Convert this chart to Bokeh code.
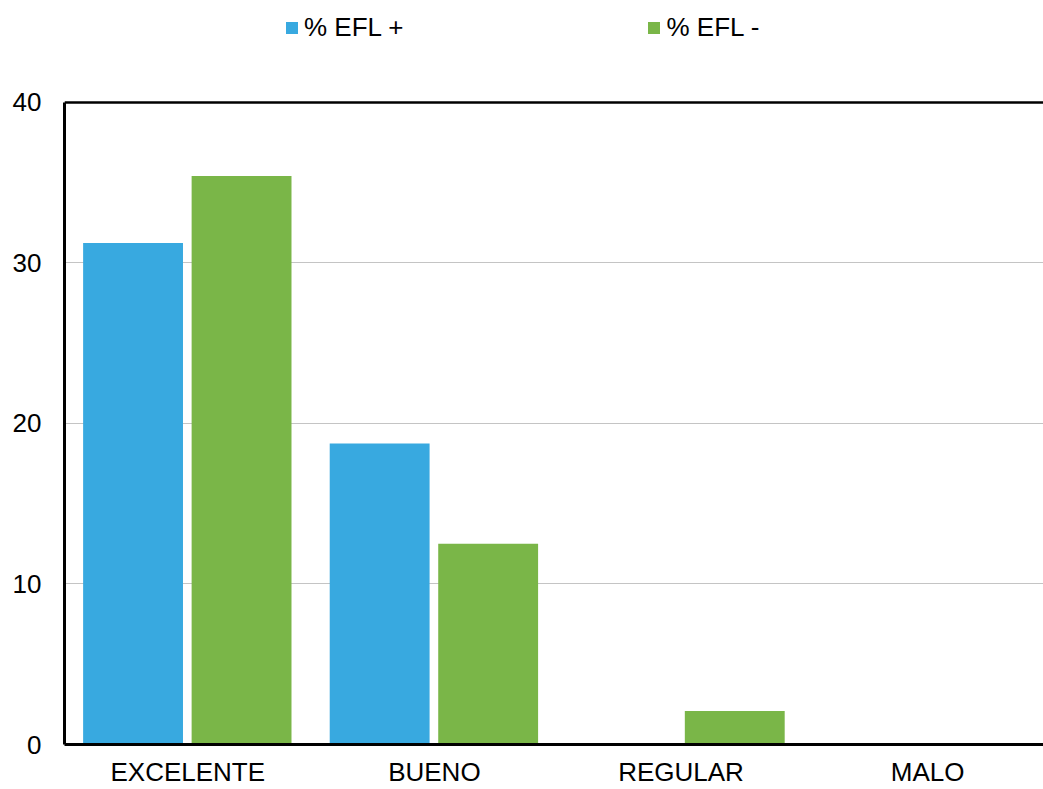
from bokeh.plotting import figure
from bokeh.models import ColumnDataSource, FixedTicker, Legend, LegendItem, Span
from bokeh.transform import dodge
from bokeh.embed import file_html
from bokeh.resources import INLINE

categories = ["EXCELENTE", "BUENO", "REGULAR", "MALO"]
efl_plus = [31.25, 18.75, 0.0, 0.0]
efl_minus = [35.42, 12.5, 2.08, 0.0]
y_ticks = [0, 10, 20, 30, 40]

BLUE = "#38a9e0"
GREEN = "#7ab648"
FONT = "Liberation Sans"

xs = [i + 0.5 for i in range(len(categories))]
src = ColumnDataSource(dict(x=xs, plus=efl_plus, minus=efl_minus))

p = figure(width=1043, height=789, output_backend="svg", toolbar_location=None,
           x_range=(0, 3.97), y_range=(0, 46.35),
           min_border_left=64, min_border_right=0, min_border_top=0, min_border_bottom=44)
p.outline_line_color = None
p.background_fill_color = "white"

r1 = p.vbar(x=dodge("x", -0.222, range=p.x_range), top="plus", width=0.405, source=src,
            fill_color=BLUE, line_color=None)
r2 = p.vbar(x=dodge("x", 0.218, range=p.x_range), top="minus", width=0.405, source=src,
            fill_color=GREEN, line_color=None)

p.xaxis.ticker = FixedTicker(ticks=xs)
p.xaxis.major_label_overrides = {x: c for x, c in zip(xs, categories)}
p.yaxis.ticker = FixedTicker(ticks=y_ticks)
p.yaxis.bounds = (y_ticks[0], y_ticks[-1])

for ax in (p.xaxis, p.yaxis):
    ax.axis_line_color = "black"
    ax.axis_line_width = 3
    ax.major_tick_line_color = None
    ax.minor_tick_line_color = None
    ax.major_label_text_font = FONT
    ax.major_label_text_font_size = "26px"
    ax.major_label_text_color = "black"
p.yaxis.major_label_standoff = 17
p.xaxis.major_label_standoff = 6

p.xgrid.grid_line_color = None
p.ygrid.grid_line_color = "#c4c4c4"
p.ygrid.grid_line_width = 1

p.add_layout(Span(location=y_ticks[-1], dimension="width", line_color="black", line_width=2.5))

legend = Legend(items=[LegendItem(label="% EFL +", renderers=[r1]),
                       LegendItem(label="% EFL -", renderers=[r2])],
                location=(220, 701), orientation="horizontal")
legend.glyph_width = 15
legend.glyph_height = 15
legend.label_text_font = FONT
legend.label_text_font_size = "26px"
legend.label_text_color = "black"
legend.label_standoff = 5
legend.spacing = 243
legend.padding = 0
legend.margin = 0
legend.border_line_color = None
legend.background_fill_alpha = 0
p.add_layout(legend, "center")

open("out.html", "w").write(file_html(p, INLINE))
